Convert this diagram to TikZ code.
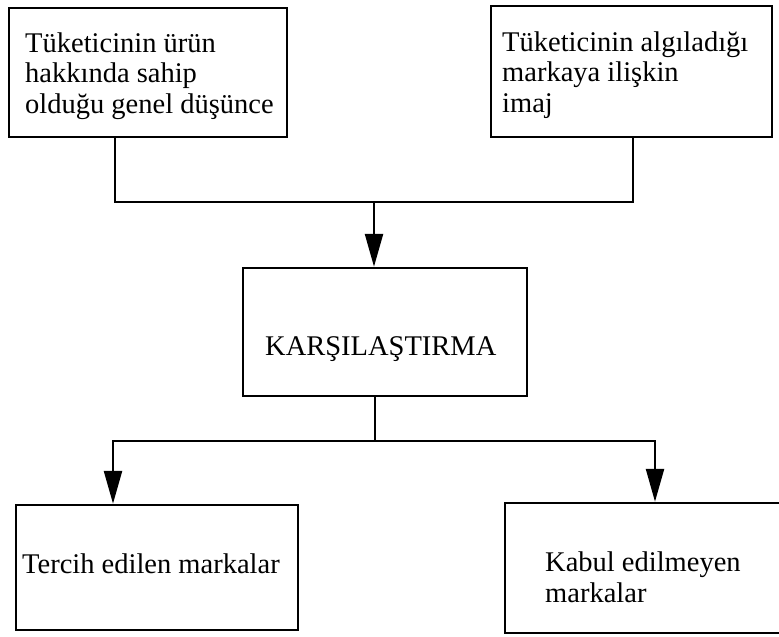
\documentclass[tikz,border=0pt]{standalone}
\usepackage{fontspec}
\setmainfont{Liberation Serif}
\usetikzlibrary{arrows.meta}
\begin{document}
\begin{tikzpicture}[x=1pt,y=-1pt,
  frame/.style={draw, line width=2.5pt, inner sep=0pt},
  boxtext/.style={font=\fontsize{28.5}{30.5}\selectfont, align=left, inner sep=0pt, anchor=base west},
  wire/.style={line width=2.5pt},
  feed/.style={wire, -{Triangle[length=33pt,width=18pt]}}]
\useasboundingbox (0,0) rectangle (779,637);
\clip (0,0) rectangle (779,637);

% the five boxes
\node[frame, minimum width=278pt, minimum height=129pt] (consumer) at (148,72.5) {};
\node[frame, minimum width=281pt, minimum height=131pt] (image) at (631.5,71.5) {};
\node[frame, minimum width=284pt, minimum height=128pt] (compare) at (385,332) {};
\node[frame, minimum width=282pt, minimum height=125pt] (preferred) at (157,567.5) {};
\node[frame, minimum width=285pt, minimum height=130pt] (rejected) at (647.5,568) {};

% their texts (anchored at the baseline of the last line)
\node[boxtext] (consumerText) at (25,113) {Tüketicinin ürün\\hakkında sahip\\olduğu genel düşünce};
\node[boxtext] (imageText) at (502,112) {Tüketicinin algıladığı\\markaya ilişkin\\imaj};
\node[boxtext] (compareText) at (265,355) {KARŞILAŞTIRMA};
\node[boxtext] (preferredText) at (22,573) {Tercih edilen markalar};
\node[boxtext] (rejectedText) at (545,602) {Kabul edilmeyen\\markalar};

% joining the two inputs
\coordinate (join) at (374,202);
\coordinate (fromConsumer) at ([xshift=-33pt]consumer.south);
\coordinate (fromImage) at ([xshift=1.5pt]image.south);
\draw[wire] (fromConsumer) -- (fromConsumer |- join) -- (fromImage |- join) -- (fromImage);
\draw[feed] (join) -- (join |- compare.north);

% splitting into the two outcomes
\coordinate (split) at (375,441);
\draw[wire] (split |- compare.south) -- (split);
\draw[feed] (split) -| ([xshift=-44pt]preferred.north);
\draw[feed] (split) -| ([xshift=7.5pt]rejected.north);
\end{tikzpicture}
\end{document}
